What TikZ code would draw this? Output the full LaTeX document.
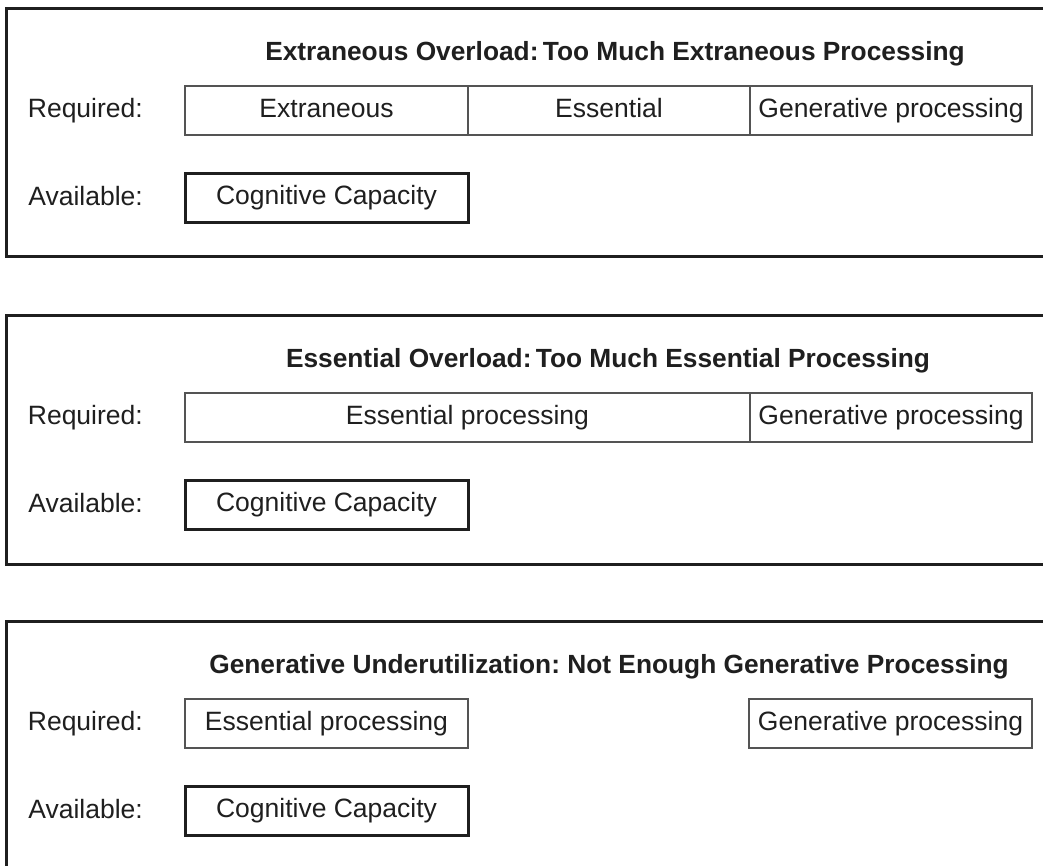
\documentclass[tikz,border=0pt]{standalone}
\usepackage{fontspec}
\setmainfont{Liberation Sans}
\frenchspacing
\definecolor{txt}{gray}{0.12}
\definecolor{boxgray}{gray}{0.33}
\definecolor{panelline}{gray}{0.12}
\begin{document}
\frenchspacing
\begin{tikzpicture}[x=1pt,y=-1pt,
  lab/.style={anchor=base east, inner sep=0pt, text=txt, font=\fontsize{26.5}{30}\selectfont},
  ttl/.style={anchor=base, inner sep=0pt, text=txt, font=\fontsize{26.3}{30}\selectfont\bfseries},
  box/.style={inner sep=0pt, text=txt, font=\fontsize{26.5}{30}\selectfont, text height=19.5pt, text depth=6.5pt},
  reqbox/.style={box, draw=boxgray, line width=1.5pt, minimum height=49pt},
  capbox/.style={box, draw=panelline, line width=3pt, minimum height=49pt, minimum width=283pt},
  panel/.style={draw=panelline, line width=3pt}
]
\useasboundingbox (0,0) rectangle (1043,865);
\clip (0,0) rectangle (1043,865);
\fill[white] (0,0) rectangle (1043,865);

% Panel 1
\begin{scope}[shift={(0,8)}]
  \draw[panel] (1060,0) -- (6,0) -- (6,248) -- (1060,248);
  \node[ttl] (t1) at (615,52) {Extraneous Overload:\kern-3pt\ Too Much Extraneous Processing};
  \node[lab] (r1) at (143,109) {Required:};
  \node[lab] (a1) at (143,197) {Available:};
  \node[reqbox, minimum width=283pt] (x1) at (326.5,102.5) {Extraneous};
  \node[reqbox, minimum width=282pt] (e1) at (609,102.5) {Essential};
  \node[reqbox, minimum width=282pt] (g1) at (891,102.5) {Generative processing};
  \node[capbox] (c1) at (326.5,190) {Cognitive Capacity};
\end{scope}

% Panel 2
\begin{scope}[shift={(0,315)}]
  \draw[panel] (1060,0) -- (6,0) -- (6,249) -- (1060,249);
  \node[ttl] (t2) at (608,52) {Essential Overload:\kern-3pt\ Too Much Essential Processing};
  \node[lab] (r2) at (143,109) {Required:};
  \node[lab] (a2) at (143,197) {Available:};
  \node[reqbox, minimum width=565pt] (e2) at (467.5,102.5) {Essential processing};
  \node[reqbox, minimum width=282pt] (g2) at (891,102.5) {Generative processing};
  \node[capbox] (c2) at (326.5,190) {Cognitive Capacity};
\end{scope}

% Panel 3
\begin{scope}[shift={(0,621)}]
  \draw[panel] (1060,0) -- (6,0) -- (6,260);
  \node[ttl] (t3) at (609,52) {Generative Underutilization: Not Enough Generative Processing};
  \node[lab] (r3) at (143,109) {Required:};
  \node[lab] (a3) at (143,197) {Available:};
  \node[reqbox, minimum width=283pt] (e3) at (326.5,102.5) {Essential processing};
  \node[reqbox, minimum width=283pt] (g3) at (890.5,102.5) {Generative processing};
  \node[capbox] (c3) at (326.5,190) {Cognitive Capacity};
\end{scope}
\end{tikzpicture}
\end{document}
